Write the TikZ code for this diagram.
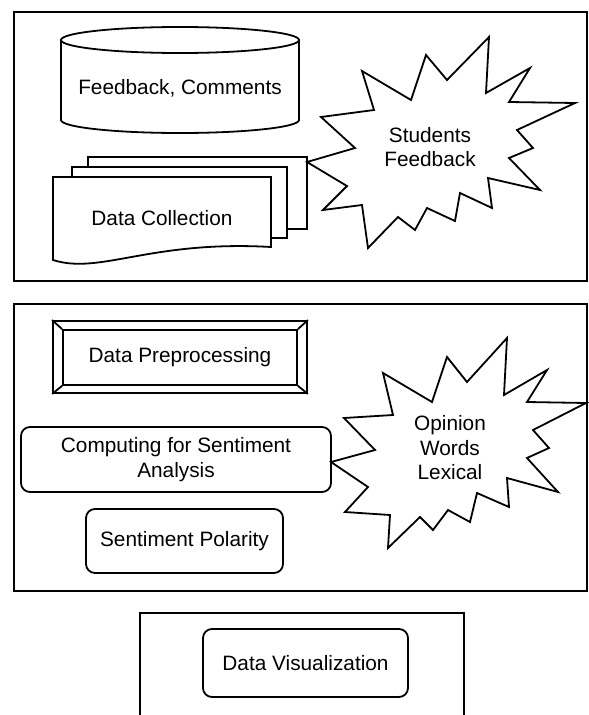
\documentclass[tikz,border=0pt]{standalone}
\usepackage{fontspec}
\setmainfont{Liberation Sans}
\usetikzlibrary{positioning}

\begin{document}
\begin{tikzpicture}[
      x=1pt, y=-1pt,
      font=\fontsize{20.8}{24.5}\selectfont,
      panel/.style={draw, line width=2pt},
      shp/.style={draw, line width=1.8pt, fill=white},
      lbl/.style={align=center, inner sep=0pt},
      rbox/.style={shp, rounded corners=9pt, align=center, inner sep=0pt},
    ]
    \useasboundingbox (0,0) rectangle (589,715);

    % the three phase panels (the last one runs off the page)
    \draw[panel] (14,12) rectangle (587,281);
    \draw[panel] (14,304) rectangle (587,591);
    \draw[panel] (140,720) |- (464,613) -- (464,720);

    % --- collection: database, document stack, burst ---
    \draw[shp] (61,40) -- (61,120) arc[start angle=180, end angle=0, x radius=119, y radius=13] -- (299,40);
    \draw[shp] (180,40) ellipse [x radius=119, y radius=13];
    \node[lbl] (fbk) at (180,88) {Feedback, Comments};

    \draw[shp] (88,157) rectangle (307,229);
    \draw[shp] (72,167) rectangle (287,238);
    \draw[shp] (53,177) -- (271,177) -- (271,247)
      .. controls (150,240) and (100,275) .. (53,260) -- cycle;
    \node[lbl] (coll) at (162,218) {Data Collection};

    \draw[shp, line join=miter] (307,162) -- (355,148) -- (321,117) -- (374,110) -- (362,71)
      -- (411,100) -- (426,55) -- (447,80) -- (489,37) -- (486,93) -- (530,68)
      -- (509,102) -- (575,103) -- (517,130) -- (533,148) -- (509,158) -- (540,190)
      -- (488,178) -- (492,208) -- (460,193) -- (455,221) -- (427,208) -- (415,230)
      -- (398,217) -- (368,248) -- (362,205) -- (323,210) -- (347,186) -- cycle;
    \node[lbl] (stud) at (430,147) {Students\\Feedback};

    % --- analysis: bevelled box, two rounded boxes, burst ---
    \node[shp, minimum width=254pt, minimum height=72pt] (prep) at (180,357) {};
    \node[draw, line width=1.8pt, minimum width=234pt, minimum height=55pt] (prepin) at (180,357.5) {};
    \foreach \c in {north west, north east, south west, south east}
      \draw[line width=1.8pt] (prep.\c) -- (prepin.\c);
    \node[lbl] (preptxt) at (prepin) {Data Preprocessing};

    \node[rbox, minimum width=310pt, minimum height=65pt] (comp) at (176,459.5)
      {Computing for Sentiment\\Analysis};
    \node[rbox, minimum width=197pt, minimum height=64pt] (pol) at (184.5,541) {Sentiment Polarity};

    \draw[shp, line join=miter] (331,462) -- (375,450) -- (344,418) -- (393,415) -- (383,373)
      -- (432,402) -- (447,357) -- (467,382) -- (507,338) -- (504,395) -- (547,370)
      -- (527,402) -- (586,403) -- (533,430) -- (549,448) -- (527,458) -- (558,492)
      -- (507,478) -- (509,507) -- (477,493) -- (470,522) -- (448,510) -- (433,530)
      -- (420,517) -- (388,548) -- (390,515) -- (345,512) -- (368,487) -- cycle;
    \node[lbl] (lex) at (450,448) {Opinion\\Words\\Lexical};

    % --- visualization ---
    \node[rbox, minimum width=205pt, minimum height=68pt] (vis) at (305.5,663) {Data Visualization};
  \end{tikzpicture}
\end{document}
